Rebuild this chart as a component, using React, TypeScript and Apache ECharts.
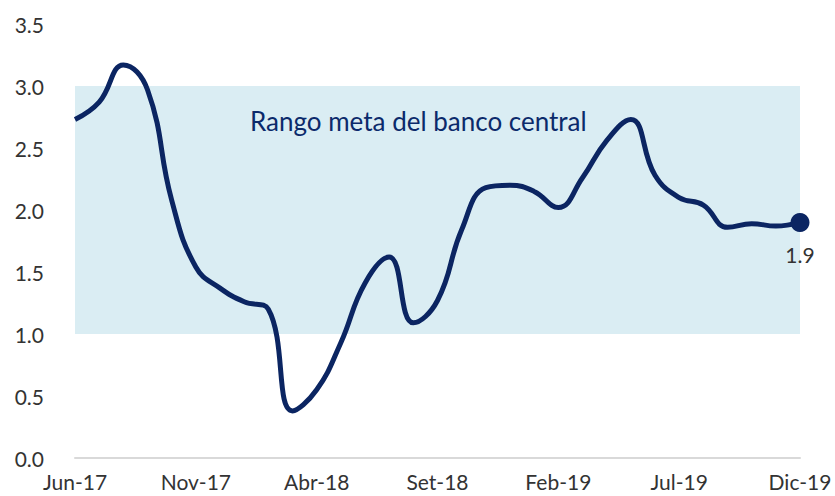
import React, { useEffect, useRef } from "react";
import * as echarts from "echarts";

const months = [
  "Jun-17","Jul-17","Ago-17","Set-17","Oct-17","Nov-17","Dic-17",
  "Ene-18","Feb-18","Mar-18","Abr-18","May-18","Jun-18","Jul-18","Ago-18","Set-18","Oct-18","Nov-18","Dic-18",
  "Ene-19","Feb-19","Mar-19","Abr-19","May-19","Jun-19","Jul-19","Ago-19","Set-19","Oct-19","Nov-19","Dic-19",
];
const inflation = [
  2.73, 2.87, 3.17, 2.97, 2.08, 1.54, 1.37,
  1.26, 1.2, 0.38, 0.55, 0.93, 1.41, 1.62, 1.09, 1.27, 1.84, 2.18, 2.2,
  2.15, 2.02, 2.26, 2.56, 2.73, 2.28, 2.1, 2.04, 1.86, 1.89, 1.87, 1.9,
];
const targetRange = [1.0, 3.0];
const targetLabel = "Rango meta del banco central";
const yTicks = { min: 0, max: 3.5, interval: 0.5 };

export default function App() {
  const ref = useRef<HTMLDivElement>(null);
  useEffect(() => {
    if (!ref.current) return;
    document.body.style.margin = "0";
    const chart = echarts.init(ref.current, undefined, { renderer: "svg" });
    const last = inflation.length - 1;
    chart.setOption({
      animation: false,
      grid: { left: 75, right: 35, top: 24, bottom: 38 },
      xAxis: {
        type: "category",
        data: months,
        boundaryGap: false,
        axisLine: { show: true, lineStyle: { color: "#d9d9d9", width: 2 } },
        axisTick: { show: false },
        axisLabel: {
          interval: 4,
          color: "#333",
          fontFamily: "Lato",
          fontSize: 21,
          margin: 13,
        },
        splitLine: { show: false },
      },
      yAxis: {
        type: "value",
        min: yTicks.min,
        max: yTicks.max,
        interval: yTicks.interval,
        axisLine: { show: false },
        axisTick: { show: false },
        splitLine: { show: false },
        axisLabel: {
          color: "#333",
          fontFamily: "Lato",
          fontSize: 21,
          margin: 31,
          formatter: (v: number) => v.toFixed(1),
        },
      },
      series: [
        {
          type: "line",
          data: inflation.map((v, i) =>
            i === last
              ? {
                  value: v,
                  symbol: "circle",
                  symbolSize: 19,
                  label: {
                    show: true,
                    position: "bottom",
                    distance: 12,
                    color: "#333",
                    fontFamily: "Lato",
                    fontSize: 21,
                    formatter: () => v.toFixed(1),
                  },
                }
              : { value: v, symbol: "none" }
          ),
          smooth: 0.45,
          showSymbol: true,
          lineStyle: { color: "#0b2562", width: 5 },
          itemStyle: { color: "#0b2562" },
          z: 5,
          markArea: {
            silent: true,
            itemStyle: { color: "#daedf3" },
            label: { show: false },
            data: [
              [
                { xAxis: months[0], yAxis: targetRange[1] },
                { xAxis: months[last], yAxis: targetRange[0] },
              ],
            ],
          },
        },
      ],
      graphic: [
        {
          type: "text",
          left: 250,
          top: 108,
          style: {
            text: targetLabel,
            fill: "#0b2a6b",
            font: "26px Lato",
          },
          z: 10,
        },
      ],
    });
    return () => chart.dispose();
  }, []);
  return <div ref={ref} style={{ width: 835, height: 496 }} />;
}
